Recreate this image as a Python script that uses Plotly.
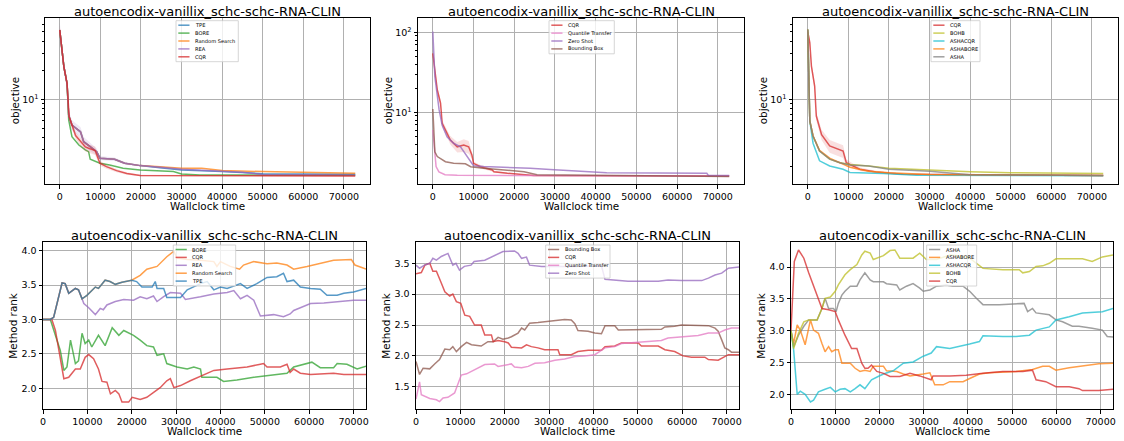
import plotly.graph_objects as go

W, H = 1124, 441
FONT = "DejaVu Sans"
TITLE = "autoencodix-vanillix_schc-schc-RNA-CLIN"

# ---------------- data (time, value) ----------------
# Panel 1: objective, log scale
P1_SHARED = [(0, 52), (1000, 22), (1800, 14.5), (2200, 6.8), (3000, 5.4), (5100, 4.6), (5900, 3.63),
             (7500, 3.2), (9100, 2.86), (9900, 2.45), (13500, 2.39), (16000, 2.17), (19800, 2.05)]
P1_TPE = P1_SHARED + [(24700, 1.95), (30000, 1.85), (40000, 1.78), (45000, 1.75), (50000, 1.69), (60000, 1.68), (72800, 1.67)]
P1_RS = P1_SHARED + [(24700, 1.99), (30000, 1.93), (35000, 1.92), (40000, 1.82), (50000, 1.78), (60000, 1.74), (72800, 1.71)]
P1_REA = P1_SHARED + [(24700, 1.97), (30000, 1.88), (40000, 1.79), (45000, 1.75), (50000, 1.66), (60000, 1.65), (72800, 1.64)]
P1_REA_SPREAD = [0.2, 0.15, 0.12, 0.12, 0.12, 0.12, 0.12, 0.1, 0.08, 0.05, 0.04, 0.03, 0.02, 0.02, 0.015, 0.01, 0.01, 0.01, 0.01, 0.01]
P1_BORE = [(0, 52), (1000, 22), (1800, 14.5), (2200, 6.1), (3000, 4.1), (4700, 3.35), (6300, 2.98), (7100, 2.86),
           (7500, 2.39), (9900, 2.17), (12300, 2.08), (15600, 1.93), (19800, 1.85), (24700, 1.82), (28000, 1.78),
           (30000, 1.68), (34500, 1.64), (72800, 1.63)]
P1_CQR = [(0, 52.5), (1000, 21.8), (1800, 14.6), (2300, 6.6), (3900, 4.2), (5100, 3.63), (6300, 3.2), (7100, 3.1),
          (8700, 2.94), (9900, 2.17), (11500, 2.0), (14000, 1.82), (16500, 1.7), (19800, 1.62), (72800, 1.6)]
P1_CQR_SPREAD = [0.1, 0.1, 0.1, 0.08, 0.08, 0.1, 0.1, 0.1, 0.1, 0.06, 0.05, 0.04, 0.03, 0.02, 0.01]

# Panel 2: objective, log scale
P2_CQR = [(0, 54.6), (1100, 19), (1900, 13), (2300, 7.3), (3500, 5.46), (4300, 4.5), (6000, 3.7), (7600, 3.9),
          (8800, 3.7), (9600, 2.93), (10000, 2.3), (11700, 2.09), (14600, 1.9), (15000, 1.81), (18300, 1.73),
          (24800, 1.62), (72800, 1.6)]
P2_CQR_SPREAD = [0.1, 0.1, 0.1, 0.1, 0.1, 0.12, 0.15, 0.18, 0.18, 0.1, 0.05, 0.05, 0.04, 0.03, 0.02, 0.01, 0.01]
P2_QT = [(0, 6.0), (800, 2.1), (1500, 1.8), (3000, 1.66), (6000, 1.63), (72800, 1.6)]
P2_ZS = [(0, 102), (500, 27.9), (1550, 10.7), (2300, 6.9), (3500, 4.95), (5100, 4.1), (6800, 3.7), (8400, 2.79),
         (10000, 2.15), (12500, 2.1), (16600, 2.07), (23900, 2.0), (28800, 1.93), (41100, 1.81), (42700, 1.76),
         (67300, 1.73), (67700, 1.62), (72800, 1.62)]
P2_BB = [(0, 11), (500, 3.2), (1100, 2.8), (3100, 2.41), (5100, 2.3), (8000, 2.27), (9300, 2.09), (12500, 2.0),
         (22400, 1.81), (25600, 1.66), (72800, 1.58)]

# Panel 3: objective, log scale
P3_CQR = [(0, 50), (500, 38.7), (900, 22), (1700, 13.7), (2100, 6.7), (3400, 4.3), (5400, 3.28), (8700, 2.9),
          (9500, 2.2), (12800, 1.88), (16800, 1.76), (23400, 1.67), (72800, 1.62)]
P3_CQR_SPREAD = [0.1, 0.1, 0.1, 0.1, 0.1, 0.12, 0.15, 0.15, 0.08, 0.04, 0.03, 0.02, 0.01]
P3_BOHB = [(0, 53), (500, 5.95), (1300, 4.16), (2900, 2.9), (5400, 2.39), (7900, 2.2), (10400, 2.1), (15000, 2.03),
           (20000, 1.92), (25000, 1.88), (30000, 1.86), (40000, 1.77), (50000, 1.73), (72800, 1.70)]
P3_ASHACQR = [(0, 53), (500, 5.95), (1300, 3.5), (2900, 2.3), (5400, 2.03), (8700, 1.88), (10400, 1.74),
              (18600, 1.7), (26800, 1.63), (72800, 1.61)]
P3_ASHABORE = [(0, 53), (500, 5.95), (1300, 4.16), (2900, 2.95), (5400, 2.45), (7900, 2.2), (10400, 1.97),
               (15000, 1.79), (20000, 1.73), (30000, 1.66), (72800, 1.62)]
P3_ASHA = [(0, 53), (500, 5.95), (1300, 4.16), (2900, 2.9), (5400, 2.39), (7900, 2.2), (10400, 2.08), (15000, 2.03),
           (20000, 1.88), (30000, 1.79), (40000, 1.65), (72800, 1.62)]

# Panel 4: method rank
P4_SHARED = [(0, 3.0), (1650, 3.0), (2400, 3.03), (3900, 3.4), (4300, 3.53), (5000, 3.52), (5800, 3.38), (7300, 3.45),
             (8000, 3.43)]
P4_TPE = P4_SHARED + [(8800, 3.30), (9900, 3.35), (11800, 3.47), (12500, 3.45), (14000, 3.57), (15100, 3.55),
                      (16300, 3.51), (17800, 3.54), (20000, 3.57), (21100, 3.55), (22300, 3.47), (24600, 3.47),
                      (25300, 3.55), (25700, 3.45), (27200, 3.45), (27900, 3.32), (31000, 3.32), (32500, 3.43),
                      (35500, 3.52), (37000, 3.55), (38500, 3.43), (40000, 3.47), (41500, 3.45), (44500, 3.52),
                      (46000, 3.45), (48200, 3.52), (50500, 3.61), (52700, 3.62), (54200, 3.67), (55000, 3.55),
                      (56500, 3.57), (58000, 3.47), (60300, 3.45), (62500, 3.44), (64000, 3.35), (66300, 3.35),
                      (67800, 3.38), (70000, 3.40), (72800, 3.45)]
P4_RS = P4_SHARED + [(8800, 3.30), (9900, 3.35), (11800, 3.47), (12500, 3.45), (14000, 3.57), (15100, 3.55),
                     (16300, 3.51), (17800, 3.54), (20000, 3.57), (21900, 3.64), (23400, 3.73), (25700, 3.77),
                     (27900, 3.91), (29500, 3.99), (30200, 3.89), (32500, 3.87), (35500, 3.86), (38500, 3.84),
                     (39200, 3.77), (40000, 3.84), (42200, 3.77), (44300, 3.73), (45200, 3.79), (47500, 3.84),
                     (50500, 3.81), (52700, 3.82), (55000, 3.79), (56500, 3.73), (59500, 3.77), (62500, 3.82),
                     (65500, 3.86), (69500, 3.87), (70300, 3.79), (72800, 3.73)]
P4_REA = P4_SHARED + [(8800, 3.30), (9200, 3.23), (10300, 3.17), (11800, 3.07), (12900, 3.16), (13600, 3.14),
                      (14400, 3.21), (16300, 3.26), (18200, 3.29), (20400, 3.28), (21900, 3.33), (23400, 3.30),
                      (24900, 3.34), (25700, 3.26), (27200, 3.33), (28700, 3.39), (31000, 3.38), (32100, 3.29),
                      (35500, 3.33), (38500, 3.37), (41500, 3.39), (43000, 3.42), (44500, 3.30), (46000, 3.35),
                      (47500, 3.28), (49000, 3.05), (52000, 3.07), (54200, 3.04), (55700, 3.08), (56500, 3.13),
                      (58000, 3.17), (60300, 3.23), (63300, 3.24), (66300, 3.26), (70000, 3.28), (72800, 3.28)]
P4_BORE = [(0, 3.0), (1650, 3.0), (3900, 2.55), (4700, 2.26), (5400, 2.31), (6200, 2.70), (7300, 2.36), (8000, 2.40),
           (8800, 2.80), (9500, 2.65), (10300, 2.70), (11000, 2.60), (12500, 2.77), (14000, 2.62), (15600, 2.88),
           (17100, 2.77), (18200, 2.84), (20400, 2.77), (21900, 2.70), (23400, 2.62), (24900, 2.60), (25700, 2.48),
           (27200, 2.50), (27900, 2.36), (30200, 2.31), (32500, 2.28), (34000, 2.31), (35500, 2.28), (35800, 2.16),
           (39200, 2.16), (40700, 2.10), (43700, 2.12), (47500, 2.16), (50500, 2.18), (53500, 2.20), (55000, 2.22),
           (56500, 2.31), (59500, 2.36), (60600, 2.38), (62500, 2.30), (65500, 2.30), (66300, 2.36), (68500, 2.35),
           (70800, 2.28), (72800, 2.32)]
P4_CQR = [(0, 3.0), (2000, 3.0), (2800, 2.84), (3900, 2.40), (4700, 2.14), (5800, 2.16), (7300, 2.28), (8400, 2.28),
          (9500, 2.45), (10300, 2.49), (11400, 2.43), (12500, 2.28), (13300, 2.10), (14400, 2.09), (15200, 1.92),
          (16300, 1.97), (17100, 1.92), (17800, 1.80), (19300, 1.80), (20100, 1.87), (21900, 1.84), (23400, 1.87),
          (24900, 1.94), (26400, 2.01), (27900, 2.11), (28700, 2.14), (29500, 2.01), (31000, 2.04), (33200, 2.11),
          (35500, 2.18), (38500, 2.26), (41500, 2.28), (46000, 2.31), (49000, 2.35), (49700, 2.36), (50500, 2.31),
          (53500, 2.31), (55000, 2.35), (55700, 2.23), (56500, 2.28), (58000, 2.22), (60300, 2.20), (62500, 2.21),
          (65500, 2.22), (67800, 2.20), (72800, 2.20)]

# Panel 5: method rank
P5_BB = [(0, 1.91), (800, 1.70), (1600, 1.80), (3100, 1.79), (4200, 1.87), (5300, 1.94), (6500, 2.11), (7600, 2.10),
         (8300, 2.15), (9100, 2.07), (10200, 2.15), (11400, 2.22), (12500, 2.18), (14700, 2.16), (16200, 2.23),
         (17400, 2.23), (18500, 2.30), (19600, 2.27), (20800, 2.29), (21500, 2.31), (23000, 2.37), (23800, 2.45),
         (24500, 2.42), (25600, 2.53), (27500, 2.54), (29800, 2.56), (32000, 2.57), (33500, 2.59), (35000, 2.58),
         (35800, 2.52), (36500, 2.41), (38800, 2.40), (40300, 2.37), (41800, 2.36), (42600, 2.49), (44800, 2.49),
         (45600, 2.42), (50100, 2.42), (50800, 2.43), (55300, 2.43), (56100, 2.47), (58300, 2.48), (59800, 2.50),
         (64400, 2.50), (65900, 2.49), (67400, 2.45), (68100, 2.40), (68900, 2.26), (69600, 2.13), (70400, 2.10),
         (71100, 2.06), (72800, 2.06)]
P5_CQR = [(0, 3.33), (1200, 3.35), (2000, 3.47), (3100, 3.50), (3800, 3.37), (4600, 3.37), (5700, 3.18), (6500, 3.04),
          (7600, 2.97), (8300, 3.00), (9100, 2.88), (10100, 2.85), (11000, 2.66), (12100, 2.64), (13200, 2.50),
          (14700, 2.50), (15500, 2.34), (17000, 2.34), (17400, 2.23), (18500, 2.25), (20000, 2.23), (20800, 2.21),
          (21500, 2.14), (23800, 2.13), (24900, 2.18), (26000, 2.15), (27500, 2.13), (29000, 2.10), (32000, 2.10),
          (32400, 2.02), (35000, 2.02), (36500, 2.07), (38800, 2.09), (41800, 2.09), (42600, 2.15), (44800, 2.16),
          (46300, 2.21), (50100, 2.21), (50800, 2.16), (54600, 2.16), (56100, 2.10), (58300, 2.07), (60200, 2.00),
          (62100, 1.98), (65100, 1.98), (65900, 1.94), (68100, 1.93), (69600, 1.98), (70400, 2.02), (72800, 2.02)]
P5_QT = [(0, 1.30), (800, 1.58), (1200, 1.37), (2000, 1.34), (3100, 1.31), (4600, 1.29), (5300, 1.26), (6100, 1.32),
         (7200, 1.33), (8700, 1.40), (9800, 1.61), (10200, 1.69), (11400, 1.71), (12500, 1.75), (14000, 1.80),
         (15500, 1.86), (17700, 1.87), (18500, 1.83), (20000, 1.85), (21500, 1.87), (22200, 1.82), (23800, 1.81),
         (25300, 1.83), (26800, 1.88), (29000, 1.89), (31300, 1.93), (33500, 1.95), (35800, 1.99), (38000, 2.00),
         (40300, 2.02), (42600, 2.13), (44800, 2.15), (46300, 2.20), (49300, 2.22), (52300, 2.23), (55300, 2.25),
         (56800, 2.29), (59800, 2.31), (63600, 2.33), (65900, 2.37), (68100, 2.37), (69600, 2.42), (71100, 2.45),
         (72800, 2.45)]
P5_ZS = [(0, 3.47), (800, 3.42), (1900, 3.47), (3100, 3.50), (3800, 3.58), (4600, 3.55), (5700, 3.61), (7200, 3.66),
         (8300, 3.47), (9000, 3.50), (9800, 3.39), (10900, 3.45), (12400, 3.47), (13100, 3.53), (15500, 3.55),
         (17700, 3.62), (19600, 3.69), (22200, 3.70), (23000, 3.66), (23800, 3.58), (24900, 3.60), (25600, 3.47),
         (28300, 3.45), (35800, 3.45), (41800, 3.46), (42600, 3.24), (44800, 3.23), (47800, 3.21), (54600, 3.21),
         (56800, 3.23), (59800, 3.22), (64400, 3.22), (65900, 3.26), (67400, 3.31), (68900, 3.34), (70400, 3.42),
         (72800, 3.44)]

# Panel 6: method rank
P6_ASHA = [(0, 3.0), (600, 2.75), (1700, 2.93), (2900, 3.07), (4000, 3.17), (5900, 3.17), (7000, 3.35), (7700, 3.51),
           (8500, 3.35), (9600, 3.35), (10200, 3.30), (10700, 3.43), (11500, 3.56), (12200, 3.62), (13400, 3.70),
           (14900, 3.70), (15600, 3.80), (16700, 3.91), (17900, 3.80), (18600, 3.77), (20900, 3.77), (21600, 3.74),
           (23900, 3.72), (24600, 3.64), (26100, 3.70), (27600, 3.74), (29100, 3.67), (29900, 3.62), (31400, 3.64),
           (32900, 3.70), (35100, 3.72), (36600, 3.70), (38900, 3.70), (40400, 3.62), (41900, 3.51), (43400, 3.41),
           (47100, 3.41), (50900, 3.42), (52700, 3.43), (53500, 3.30), (54600, 3.35), (55400, 3.28), (58400, 3.25),
           (59900, 3.17), (61400, 3.14), (63600, 3.07), (65100, 3.07), (68100, 3.04), (70400, 3.01), (71500, 2.91),
           (72800, 2.90)]
P6_ASHABORE = [(0, 3.0), (600, 2.80), (1400, 3.09), (2100, 3.01), (3200, 2.78), (4400, 3.17), (5100, 3.01),
               (6200, 2.96), (7000, 2.80), (7700, 2.67), (8500, 2.75), (9200, 2.67), (10000, 2.70), (10700, 2.70),
               (11500, 2.49), (13400, 2.49), (14500, 2.41), (15600, 2.36), (16700, 2.38), (17900, 2.36),
               (18600, 2.44), (20900, 2.44), (21600, 2.37), (23900, 2.36), (25400, 2.32), (26900, 2.29),
               (29900, 2.32), (31400, 2.34), (32500, 2.15), (34400, 2.15), (35900, 2.20), (38900, 2.20),
               (40400, 2.25), (42600, 2.32), (44900, 2.34), (50900, 2.36), (54600, 2.39), (56900, 2.44),
               (58400, 2.44), (59900, 2.38), (62900, 2.42), (65900, 2.45), (69600, 2.48), (72800, 2.49)]
P6_ASHACQR = [(0, 3.0), (600, 2.70), (1400, 2.0), (2100, 2.05), (3200, 2.0), (4400, 1.88), (5100, 1.91), (6200, 2.04),
              (7700, 2.08), (8900, 2.11), (10000, 2.04), (11100, 2.08), (12200, 2.09), (13400, 2.04), (14500, 2.09),
              (15600, 2.15), (16700, 2.09), (18200, 2.23), (19700, 2.28), (20900, 2.32), (23100, 2.37),
              (25400, 2.49), (27600, 2.51), (29900, 2.60), (31700, 2.65), (32900, 2.75), (35900, 2.72),
              (37400, 2.74), (40400, 2.79), (42600, 2.83), (43400, 2.92), (47900, 2.91), (50900, 2.91),
              (53900, 2.93), (55400, 3.01), (58400, 3.06), (59900, 3.17), (62900, 3.22), (65900, 3.28),
              (70400, 3.30), (72800, 3.35)]
P6_BOHB = [(0, 3.0), (600, 2.72), (1700, 2.96), (2900, 3.14), (4000, 3.17), (5900, 3.17), (7000, 3.35), (7700, 3.51),
           (8900, 3.53), (10000, 3.62), (10700, 3.72), (12200, 3.88), (13400, 3.96), (14900, 4.04), (16000, 4.19),
           (16700, 4.25), (17900, 4.22), (18600, 4.12), (20900, 4.18), (22400, 4.26), (23500, 4.27), (24600, 4.14),
           (27600, 4.14), (29100, 4.22), (30600, 4.12), (32900, 4.12), (35900, 4.19), (38900, 4.17), (40400, 4.14),
           (43400, 3.98), (47900, 3.96), (51600, 3.96), (52400, 3.91), (53900, 3.93), (55400, 4.01), (56900, 4.02),
           (58400, 4.06), (59900, 4.13), (65900, 4.13), (68100, 4.09), (70400, 4.16), (72800, 4.19)]
P6_CQR = [(0, 3.0), (450, 3.70), (750, 4.09), (1700, 4.27), (2900, 4.14), (4000, 3.91), (5500, 3.64), (6200, 3.51),
          (7000, 3.35), (8500, 3.33), (10000, 3.30), (10700, 3.17), (12200, 2.93), (13700, 2.72), (14900, 2.72),
          (16000, 2.49), (16700, 2.41), (17400, 2.41), (18200, 2.46), (19400, 2.36), (20900, 2.33), (22400, 2.28),
          (24600, 2.28), (26900, 2.33), (29100, 2.29), (31700, 2.23), (32100, 2.29), (35900, 2.29), (39600, 2.30),
          (43400, 2.33), (47900, 2.36), (52400, 2.36), (54600, 2.38), (55400, 2.23), (57600, 2.20), (59900, 2.12),
          (62900, 2.12), (65100, 2.09), (65900, 2.06), (69600, 2.06), (71100, 2.07), (72800, 2.08)]

X_TICKS = [0, 10000, 20000, 30000, 40000, 50000, 60000, 70000]
X_TICK_LABELS = ["0", "10000", "20000", "30000", "40000", "50000", "60000", "70000"]

COLORS = {
    "TPE": "#1f77b4", "BORE": "#2ca02c", "Random Search": "#ff7f0e", "REA": "#9467bd", "CQR": "#d62728",
    "Quantile Transfer": "#e377c2", "Zero Shot": "#9467bd", "Bounding Box": "#8c564b", "BOHB": "#bcbd22",
    "ASHACQR": "#17becf", "ASHABORE": "#ff7f0e", "ASHA": "#7f7f7f",
}


def rgba(h, a):
    h = h.lstrip("#")
    return "rgba(%d,%d,%d,%.3f)" % (int(h[0:2], 16), int(h[2:4], 16), int(h[4:6], 16), a)


PANELS = [
    dict(box=(45, 370, 18.3, 184.3), log=True, yr=[0.118, 1.84], ytv=[10], ylab="objective",
         series=[("TPE", P1_TPE), ("BORE", P1_BORE), ("Random Search", P1_RS), ("REA", P1_REA), ("CQR", P1_CQR)],
         bands={"REA": P1_REA_SPREAD, "CQR": P1_CQR_SPREAD}, leg=(176, 238.3, 20.7)),
    dict(box=(418, 744, 18.3, 184.3), log=True, yr=[0.10, 2.175], ytv=[10, 100], ylab="objective",
         series=[("CQR", P2_CQR), ("Quantile Transfer", P2_QT), ("Zero Shot", P2_ZS), ("Bounding Box", P2_BB)],
         bands={"CQR": P2_CQR_SPREAD}, leg=(549, 614.3, 20.7)),
    dict(box=(793, 1118, 18.3, 184.3), log=True, yr=[0.118, 1.84], ytv=[10], ylab="objective",
         series=[("CQR", P3_CQR), ("BOHB", P3_BOHB), ("ASHACQR", P3_ASHACQR), ("ASHABORE", P3_ASHABORE),
                 ("ASHA", P3_ASHA)],
         bands={"CQR": P3_CQR_SPREAD}, leg=(931, 980, 20.7)),
    dict(box=(43, 366, 242.3, 409), log=False, yr=[1.70, 4.12], ylab="Method rank",
         series=[("BORE", P4_BORE), ("CQR", P4_CQR), ("REA", P4_REA), ("Random Search", P4_RS), ("TPE", P4_TPE)],
         bands={}, leg=(173.3, 235.7, 245)),
    dict(box=(416, 739, 242.3, 409), log=False, yr=[1.14, 3.84], ylab="Method rank",
         series=[("Bounding Box", P5_BB), ("CQR", P5_CQR), ("Quantile Transfer", P5_QT), ("Zero Shot", P5_ZS)],
         bands={}, leg=(545.7, 610, 245)),
    dict(box=(791, 1113, 242.3, 409), log=False, yr=[1.77, 4.39], ylab="Method rank",
         series=[("ASHA", P6_ASHA), ("ASHABORE", P6_ASHABORE), ("ASHACQR", P6_ASHACQR), ("BOHB", P6_BOHB),
                 ("CQR", P6_CQR)],
         bands={}, leg=(926.7, 976.7, 245)),
]


def fx(p):
    return p / W


def fy(p):
    return 1 - p / H


fig = go.Figure()
layout = dict(width=W, height=H, margin=dict(l=0, r=0, t=0, b=0, autoexpand=False), paper_bgcolor="white",
              plot_bgcolor="white", showlegend=False, template="none")
annotations, shapes = [], []
tickfont = dict(family=FONT, size=9.5, color="black")

for i, p in enumerate(PANELS, start=1):
    xa = "x" if i == 1 else "x%d" % i
    ya = "y" if i == 1 else "y%d" % i
    x0, x1, y0, y1 = p["box"]
    top_row = p["log"]
    for name, pts in p["series"]:
        t = [a for a, _ in pts]
        v = [b for _, b in pts]
        col = COLORS[name]
        if name in p["bands"]:
            s = p["bands"][name]
            up = [vv * (1 + ss) for vv, ss in zip(v, s)]
            lo = [vv * (1 - ss) for vv, ss in zip(v, s)]
            fig.add_trace(go.Scatter(x=t + t[::-1], y=up + lo[::-1], fill="toself", mode="lines",
                                     line=dict(width=0), fillcolor=rgba(col, 0.15), hoverinfo="skip",
                                     xaxis=xa, yaxis=ya))
        fig.add_trace(go.Scatter(x=t, y=v, mode="lines", line=dict(color=rgba(col, 0.75), width=1.5),
                                 name=name, xaxis=xa, yaxis=ya))

    common = dict(showline=True, mirror=True, linecolor="black", linewidth=1, ticks="outside", ticklen=3.5,
                  tickwidth=1, tickcolor="black", showgrid=True, gridcolor="#b0b0b0", gridwidth=1,
                  zeroline=False, tickfont=tickfont, automargin=False)
    xr = [-3640, 76440] if top_row else [0, 72800]
    layout["xaxis" if i == 1 else "xaxis%d" % i] = dict(
        common, domain=[fx(x0), fx(x1)], anchor=ya, range=xr, tickvals=X_TICKS, ticktext=X_TICK_LABELS)
    yax = dict(common, domain=[fy(y1), fy(y0)], anchor=xa, range=p["yr"])
    if top_row:
        yax.update(type="log", tickvals=p["ytv"], ticktext=["10<sup>%d</sup>" % len(str(v)[1:]) for v in p["ytv"]],
                   minor=dict(ticks="outside", ticklen=2, tickcolor="black", showgrid=False,
                              tickvals=[2, 3, 4, 5, 6, 7, 8, 9, 20, 30, 40, 50, 60, 70, 80, 90]))
    else:
        yax.update(dtick=0.5, tick0=0, tickformat=".1f")
    layout["yaxis" if i == 1 else "yaxis%d" % i] = yax

    cx = fx((x0 + x1) / 2)
    # subplot title
    annotations.append(dict(text=TITLE, x=cx, y=fy(y0 - 7), xref="paper", yref="paper", showarrow=False,
                            xanchor="center", yanchor="middle", font=dict(family=FONT, size=13, color="black")))
    # x-axis title
    annotations.append(dict(text="Wallclock time", x=cx, y=fy(y1 + 21.5), xref="paper", yref="paper",
                            showarrow=False, xanchor="center", yanchor="middle",
                            font=dict(family=FONT, size=10.4, color="black")))
    # y-axis title
    annotations.append(dict(text=p["ylab"], x=fx(x0 - 30), y=fy((y0 + y1) / 2), xref="paper", yref="paper",
                            showarrow=False, textangle=-90, xanchor="center", yanchor="middle",
                            font=dict(family=FONT, size=10.4, color="black")))
    # legend
    lx0, lx1, ly0 = p["leg"]
    n = len(p["series"])
    ly1 = ly0 + n * 7.9 + 1.5
    shapes.append(dict(type="rect", xref="paper", yref="paper", x0=fx(lx0), x1=fx(lx1), y0=fy(ly1), y1=fy(ly0),
                       fillcolor="rgba(255,255,255,0.8)", line=dict(color="#cccccc", width=0.8), layer="above"))
    for k, (name, _) in enumerate(p["series"]):
        ry = ly0 + 4.5 + k * 7.9
        shapes.append(dict(type="line", xref="paper", yref="paper", x0=fx(lx0 + 2.3), x1=fx(lx0 + 13.5),
                           y0=fy(ry), y1=fy(ry), line=dict(color=rgba(COLORS[name], 0.75), width=1.5),
                           layer="above"))
        annotations.append(dict(text=name, x=fx(lx0 + 17), y=fy(ry), xref="paper", yref="paper",
                                showarrow=False, xanchor="left", yanchor="middle",
                                font=dict(family=FONT, size=5.1, color="black")))

layout["annotations"] = annotations
layout["shapes"] = shapes
fig.update_layout(**layout)
fig.write_html("out.html", config={"displayModeBar": False},
               post_script="document.body.style.margin='0px';document.body.style.overflow='hidden';")
